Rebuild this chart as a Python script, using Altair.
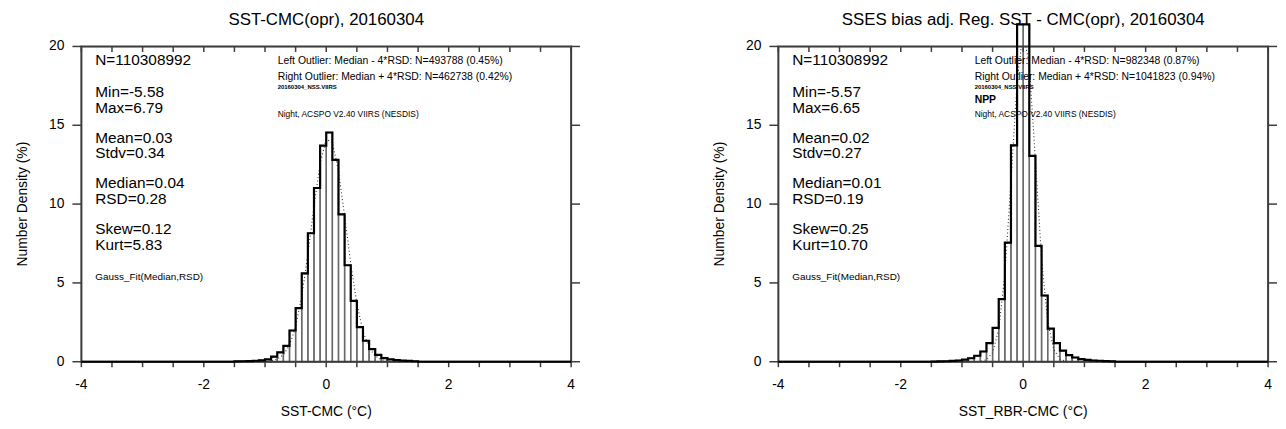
import altair as alt
import pandas as pd

# ---------------- data ----------------
bin_left = [-1.5, -1.4, -1.3, -1.2, -1.1, -1.0, -0.9, -0.8, -0.7, -0.6,
            -0.5, -0.4, -0.3, -0.2, -0.1, 0.0, 0.1, 0.2, 0.3, 0.4,
            0.5, 0.6, 0.7, 0.8, 0.9, 1.0, 1.1, 1.2, 1.3, 1.4]
bin_width = 0.1

sst_pct = [0.02, 0.03, 0.04, 0.06, 0.09, 0.15, 0.32, 0.59, 1.01, 1.98,
           3.40, 5.60, 8.15, 11.02, 13.71, 14.54, 12.80, 9.35, 6.12, 3.86,
           2.20, 1.33, 0.80, 0.44, 0.23, 0.15, 0.10, 0.07, 0.05, 0.03]
rbr_pct = [0.01, 0.02, 0.03, 0.05, 0.08, 0.13, 0.22, 0.38, 0.65, 1.18,
           2.15, 3.97, 7.55, 13.73, 21.4, 21.4, 13.06, 7.35, 4.20, 2.10,
           1.18, 0.70, 0.42, 0.27, 0.17, 0.12, 0.08, 0.06, 0.04, 0.02]

sst_fit_x = [-1.0, -0.9, -0.8, -0.7, -0.6, -0.5, -0.4, -0.3, -0.2, -0.1, 0.0,
             0.1, 0.2, 0.3, 0.4, 0.5, 0.6, 0.7, 0.8, 0.9, 1.0]
sst_fit = [0.01, 0.05, 0.16, 0.44, 1.05, 2.22, 4.15, 6.82, 9.87, 12.58, 14.10,
           13.92, 12.10, 9.26, 6.23, 3.69, 1.93, 0.89, 0.36, 0.13, 0.04]
rbr_fit_x = [-0.8, -0.7, -0.6, -0.5, -0.4, -0.3, -0.2, -0.1, 0.0,
             0.1, 0.2, 0.3, 0.4, 0.5, 0.6, 0.7, 0.8]
rbr_fit = [0.00, 0.02, 0.12, 0.57, 2.05, 5.55, 11.40, 17.76, 20.97,
           18.77, 12.74, 6.55, 2.55, 0.76, 0.17, 0.03, 0.00]

x_domain = [-4, 4]
y_domain = [0, 20]
x_tick_values = [-4, -3.5, -3, -2.5, -2, -1.5, -1, -0.5, 0, 0.5, 1, 1.5, 2, 2.5, 3, 3.5, 4]
x_label_values = [-4, -2, 0, 2, 4]
x_label_text = ["-4", "-2", "0", "2", "4"]
y_tick_values = [0, 5, 10, 15, 20]
y_label_text = ["0", "5", "10", "15", "20"]
y_title = "Number Density (%)"

sst_stats = [["N=110308992"], ["Min=-5.58", "Max=6.79"], ["Mean=0.03", "Stdv=0.34"],
             ["Median=0.04", "RSD=0.28"], ["Skew=0.12", "Kurt=5.83"]]
rbr_stats = [["N=110308992"], ["Min=-5.57", "Max=6.65"], ["Mean=0.02", "Stdv=0.27"],
             ["Median=0.01", "RSD=0.19"], ["Skew=0.25", "Kurt=10.70"]]
fit_label = "Gauss_Fit(Median,RSD)"
sst_outliers = ["Left Outlier:  Median - 4*RSD: N=493788 (0.45%)",
                "Right Outlier: Median + 4*RSD: N=462738 (0.42%)"]
rbr_outliers = ["Left Outlier:  Median - 4*RSD: N=982348 (0.87%)",
                "Right Outlier: Median + 4*RSD: N=1041823 (0.94%)"]
file_label = "20160304_NSS.VIIRS"
platform_label = "NPP"
source_label = "Night, ACSPO V2.40 VIIRS (NESDIS)"

FONT = "Liberation Sans"
FRAME = "#3c3c3c"
W, H = 494, 318
one = pd.DataFrame({"k": [0]})


def txt(s, px, py, size, weight="normal", align="left", angle=0):
    return alt.Chart(one).mark_text(align=align, baseline="middle", fontSize=size,
                                    fontWeight=weight, font=FONT, color="black",
                                    angle=angle).encode(
        x=alt.value(px), y=alt.value(py), text=alt.value(s))


def panel(pct, fit_x, fit_y, title, xtitle, stats, outliers, platform):
    bars = pd.DataFrame({"x": bin_left, "x2": [b + bin_width for b in bin_left], "pct": pct})
    step = pd.DataFrame({"x": [x_domain[0]] + bin_left + [bin_left[-1] + bin_width, x_domain[1]],
                         "pct": [0.0] + pct + [0.0, 0.0]})
    fit = pd.DataFrame({"x": fit_x, "pct": fit_y})
    box = pd.DataFrame({"x": [x_domain[0]], "x2": [x_domain[1]],
                        "y": [y_domain[0]], "y2": [y_domain[1]]})
    xt = pd.DataFrame({"x": x_tick_values})
    yt = pd.DataFrame({"y": y_tick_values})
    xl = pd.DataFrame({"x": x_label_values, "t": x_label_text})
    yl = pd.DataFrame({"y": y_tick_values, "t": y_label_text})
    xs = alt.Scale(domain=x_domain, nice=False, zero=False)
    ys = alt.Scale(domain=y_domain, nice=False)

    bar_layer = alt.Chart(bars).mark_bar(fill="white", fillOpacity=0, stroke="#6a6a6a",
                                         strokeWidth=1.4).encode(
        x=alt.X("x:Q", scale=xs, axis=None),
        x2="x2:Q",
        y=alt.Y("pct:Q", scale=ys, stack=None, axis=None),
        y2=alt.datum(0),
    )

    frame_layer = alt.Chart(box).mark_bar(fill="white", fillOpacity=0, stroke=FRAME,
                                          strokeWidth=2).encode(
        x=alt.X("x:Q", scale=xs, axis=None), x2="x2:Q",
        y=alt.Y("y:Q", scale=ys, axis=None), y2="y2:Q")

    tick_bottom = alt.Chart(xt).mark_tick(orient="vertical", color=FRAME, size=5,
                                          thickness=1.5, opacity=1).encode(
        x=alt.X("x:Q", scale=xs, axis=None), y=alt.value(H + 3))
    tick_top = alt.Chart(xt).mark_tick(orient="vertical", color=FRAME, size=5,
                                       thickness=1.5, opacity=1).encode(
        x=alt.X("x:Q", scale=xs, axis=None), y=alt.value(3))
    tick_left = alt.Chart(yt).mark_tick(orient="horizontal", color=FRAME, size=9,
                                        thickness=1.5, opacity=1).encode(
        y=alt.Y("y:Q", scale=ys, axis=None), x=alt.value(-4.5))
    tick_right = alt.Chart(yt).mark_tick(orient="horizontal", color=FRAME, size=9,
                                         thickness=1.5, opacity=1).encode(
        y=alt.Y("y:Q", scale=ys, axis=None), x=alt.value(W + 4.5))

    x_labels = alt.Chart(xl).mark_text(align="center", baseline="middle", fontSize=14,
                                       font=FONT, color="black").encode(
        x=alt.X("x:Q", scale=xs, axis=None), y=alt.value(H + 24), text="t:N")
    y_labels = alt.Chart(yl).mark_text(align="right", baseline="middle", fontSize=14,
                                       font=FONT, color="black").encode(
        y=alt.Y("y:Q", scale=ys, axis=None), x=alt.value(-17), text="t:N")

    step_layer = alt.Chart(step).mark_line(interpolate="step-after", color="black",
                                           strokeWidth=2.2).encode(
        x=alt.X("x:Q", scale=xs, axis=None),
        y=alt.Y("pct:Q", scale=ys, axis=None),
    )

    fit_layer = alt.Chart(fit).mark_line(color="#333333", strokeWidth=1.1,
                                         strokeDash=[1, 2.5], clip=True).encode(
        x=alt.X("x:Q", scale=xs, axis=None),
        y=alt.Y("pct:Q", scale=ys, axis=None),
    )

    layers = [txt(title, W / 2, -27, 17, align="center"),
              txt(xtitle, W / 2, H + 51, 14, align="center"),
              txt(y_title, -59, H / 2, 14, align="center", angle=270),
              bar_layer, fit_layer, frame_layer, tick_bottom, tick_top, tick_left,
              tick_right, x_labels, y_labels, step_layer]
    # statistics block
    y0 = 14
    offsets = [0, 32, 78, 124, 170]
    for grp, off in zip(stats, offsets):
        for j, s in enumerate(grp):
            layers.append(txt(s, 14, y0 + off + 16 * j, 15.5))
    layers.append(txt(fit_label, 14, 233, 10))
    # outlier block
    layers.append(txt(outliers[0], 198, 15, 10.5))
    layers.append(txt(outliers[1], 198, 31, 10.5))
    layers.append(txt(file_label, 198, 41, 6, "bold"))
    if platform:
        layers.append(txt(platform, 198, 54, 10.5, "bold"))
    layers.append(txt(source_label, 198, 68, 8.5))

    return alt.layer(*layers).properties(width=W, height=H)


left = panel(sst_pct, sst_fit_x, sst_fit, "SST-CMC(opr), 20160304", "SST-CMC (°C)",
             sst_stats, sst_outliers, None)
right = panel(rbr_pct, rbr_fit_x, rbr_fit, "SSES bias adj. Reg. SST - CMC(opr), 20160304",
              "SST_RBR-CMC (°C)", rbr_stats, rbr_outliers, platform_label)

chart = alt.hconcat(left, right, spacing=132).properties(
    padding={"left": 7, "top": 0, "right": 0, "bottom": 0}
).configure(font=FONT)

chart.save("out.html", embed_options={"renderer": "svg", "actions": False})
